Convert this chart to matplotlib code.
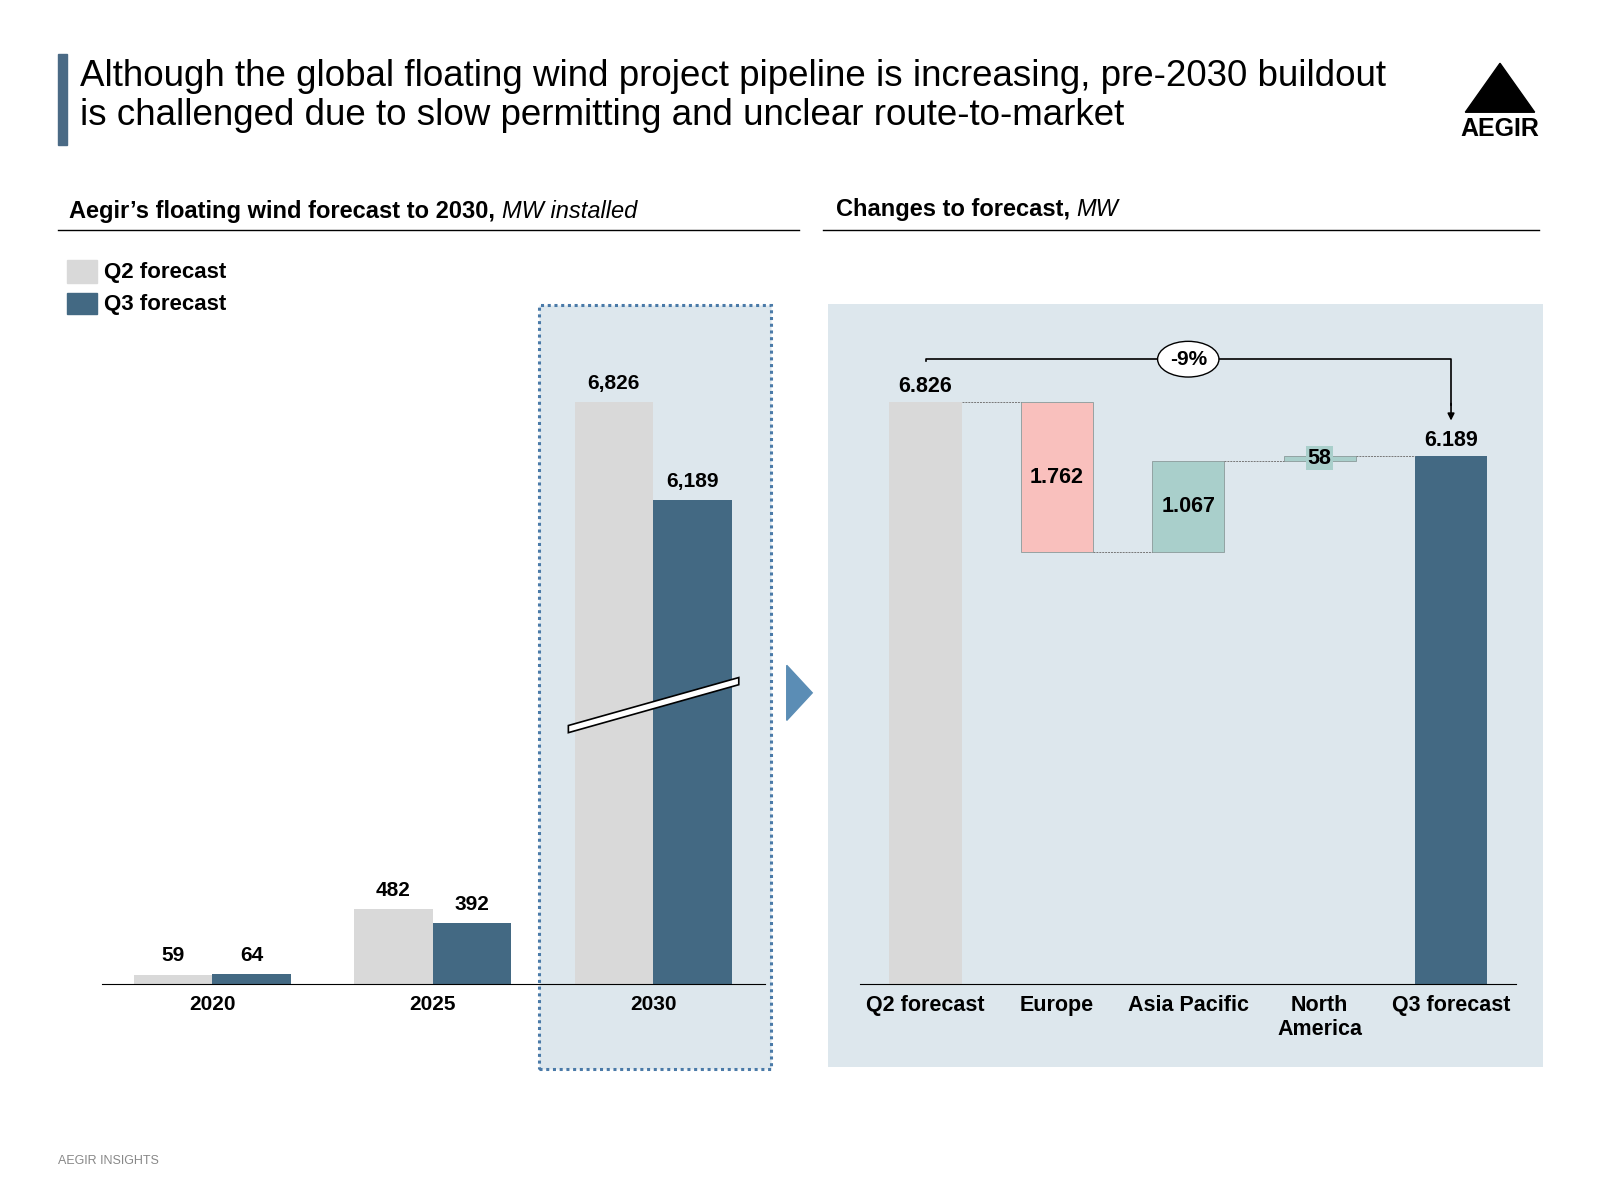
import matplotlib
matplotlib.use("Agg")
import matplotlib.pyplot as plt
from matplotlib.patches import Rectangle, Polygon
from matplotlib.lines import Line2D

plt.rcParams['font.family'] = ['Liberation Sans', 'DejaVu Sans']

years = ["2020", "2025", "2030"]
q2 = [59, 482, 6826]
q3 = [64, 392, 6189]
wf_cats = ["Q2 forecast", "Europe", "Asia Pacific", "North\nAmerica", "Q3 forecast"]
wf_vals = [6826, -1762, 1067, 58, 6189]
wf_labels = ["6.826", "1.762", "1.067", "58", "6.189"]

C_Q2 = "#d9d9d9"; C_Q3 = "#436983"; C_BG = "#dde7ed"
C_NEG = "#f9c0bd"; C_POS = "#a9cfcb"

W, H = 1568, 1176  # reference coordinate space
fig = plt.figure(figsize=(16, 12), dpi=100)
def fx(x): return x / W
def fy(y): return 1 - y / H
def rect(x0, y0, x1, y1, **kw):
    kw.setdefault("zorder", -5)
    fig.patches.append(Rectangle((fx(x0), fy(y1)), fx(x1) - fx(x0), fy(y0) - fy(y1),
                                 transform=fig.transFigure, **kw))

# Title
rect(57, 53, 66, 142, color="#4a6a85")
fig.text(fx(78), fy(94), "Although the global floating wind project pipeline is increasing, pre-2030 buildout\nis challenged due to slow permitting and unclear route-to-market",
         fontsize=26.5, va="center", ha="left", linespacing=1.14)
fig.patches.append(Polygon([(fx(1436), fy(110)), (fx(1504), fy(110)), (fx(1470), fy(62))],
                           closed=True, color="black", transform=fig.transFigure))
fig.text(fx(1470), fy(126), "AEGIR", fontsize=18, ha="center", va="center", fontweight="bold")

renderer = fig.canvas.get_renderer()
def two_part(x, y, a, b):
    t = fig.text(fx(x), fy(y), a, fontsize=17, fontweight="bold", va="center")
    bb = t.get_window_extent(renderer).transformed(fig.transFigure.inverted())
    fig.text(bb.x1, fy(y), b, fontsize=17, style="italic", va="center")
two_part(68, 207, "Aegir’s floating wind forecast to 2030, ", "MW installed")
two_part(819, 205, "Changes to forecast, ", "MW")
fig.lines.append(Line2D([fx(57), fx(783)], [fy(225), fy(225)], color="black", lw=1, transform=fig.transFigure))
fig.lines.append(Line2D([fx(807), fx(1508)], [fy(225), fy(225)], color="black", lw=1, transform=fig.transFigure))

# legend
rect(66, 255, 95, 277, color=C_Q2)
rect(66, 287, 95, 308, color=C_Q3)
fig.text(fx(102), fy(267), "Q2 forecast", fontsize=16, fontweight="bold", va="center")
fig.text(fx(102), fy(298), "Q3 forecast", fontsize=16, fontweight="bold", va="center")

rect(528, 299, 756, 1048, facecolor=C_BG, edgecolor="#4a7aa8", lw=2.2, ls=(0, (1, 1.2)))
rect(811, 298, 1512, 1046, facecolor=C_BG, edgecolor="none")
fig.patches.append(Polygon([(fx(771), fy(652)), (fx(771), fy(706)), (fx(796), fy(679))],
                           closed=True, color="#5b8db5", transform=fig.transFigure))

# ---- left chart
scale = 0.151
OFFSET = 3050
def disp(v): return v - OFFSET if v > 2000 else v
axL = fig.add_axes([fx(100), fy(964), fx(750) - fx(100), fy(300) - fy(964)])
axL.patch.set_alpha(0)
axL.set_xlim(-0.5, 2.509)
axL.set_ylim(0, 664 / scale)
bw = 0.356
for i, (a, b) in enumerate(zip(q2, q3)):
    axL.bar(i - bw / 2, disp(a), bw, color=C_Q2)
    axL.bar(i + bw / 2, disp(b), bw, color=C_Q3)
    axL.text(i - bw / 2, disp(a) + 60, f"{a:,}", ha="center", va="bottom", fontsize=15, fontweight="bold")
    axL.text(i + bw / 2, disp(b) + 60, f"{b:,}", ha="center", va="bottom", fontsize=15, fontweight="bold")
axL.set_xticks(range(3), years, fontsize=15, fontweight="bold")
axL.tick_params(length=0, pad=8)
axL.set_yticks([])
for s in ["top", "right", "left"]:
    axL.spines[s].set_visible(False)
fig.patches.append(Polygon([(fx(557), fy(711)), (fx(724), fy(664)), (fx(724), fy(671)), (fx(557), fy(718))],
                           closed=True, facecolor="white", edgecolor="black", lw=1.2,
                           transform=fig.transFigure, zorder=5))

# ---- waterfall
ws = 0.0835
axR = fig.add_axes([fx(843), fy(964), fx(1486) - fx(843), fy(298) - fy(964)])
axR.patch.set_alpha(0)
axR.set_xlim(-0.497, 4.497)
axR.set_ylim(0, 666 / ws)
wb = 0.55
run = 0
for i, v in enumerate(wf_vals):
    if i == 0 or i == len(wf_vals) - 1:
        axR.bar(i, v, wb, color=C_Q2 if i == 0 else C_Q3)
        axR.text(i, v + 60, wf_labels[i], ha="center", va="bottom", fontsize=15.5, fontweight="bold")
        run = v
    else:
        new = run + v
        lo, hi = min(run, new), max(run, new)
        axR.bar(i, hi - lo, wb, bottom=lo, color=C_NEG if v < 0 else C_POS, edgecolor="#8a9a9a", lw=0.6)
        if hi - lo > 500:
            axR.text(i, (lo + hi) / 2, wf_labels[i], ha="center", va="center", fontsize=15.5, fontweight="bold")
        else:
            axR.text(i, hi - 20, wf_labels[i], ha="center", va="center", fontsize=15.5, fontweight="bold",
                     bbox=dict(facecolor=C_POS, edgecolor="none", pad=1))
        run = new
    if i < len(wf_vals) - 1:
        axR.plot([i + wb / 2, i + 1 - wb / 2], [run, run], color="#777777", lw=0.7, ls=(0, (2, 1)))
axR.set_xticks(range(len(wf_cats)), wf_cats, fontsize=15.5, fontweight="bold")
axR.tick_params(length=0, pad=8)
axR.set_yticks([])
for s in ["top", "right", "left"]:
    axR.spines[s].set_visible(False)
yb = 612 / ws
axR.plot([0, 0, 4, 4], [wf_vals[0] + 480, yb, yb, wf_vals[-1] + 600], color="black", lw=1.2)
axR.annotate("", xy=(4, wf_vals[-1] + 420), xytext=(4, wf_vals[-1] + 620),
             arrowprops=dict(arrowstyle="-|>", color="black", lw=1.2, shrinkA=0, shrinkB=0))
axR.text(2, yb, "-9%", ha="center", va="center", fontsize=15, fontweight="bold",
         bbox=dict(boxstyle="ellipse,pad=0.15", facecolor="white", edgecolor="black"))

fig.text(fx(57), fy(1138), "AEGIR INSIGHTS", fontsize=9, color="#888888", va="center")
fig.savefig("out.png", dpi=100)
